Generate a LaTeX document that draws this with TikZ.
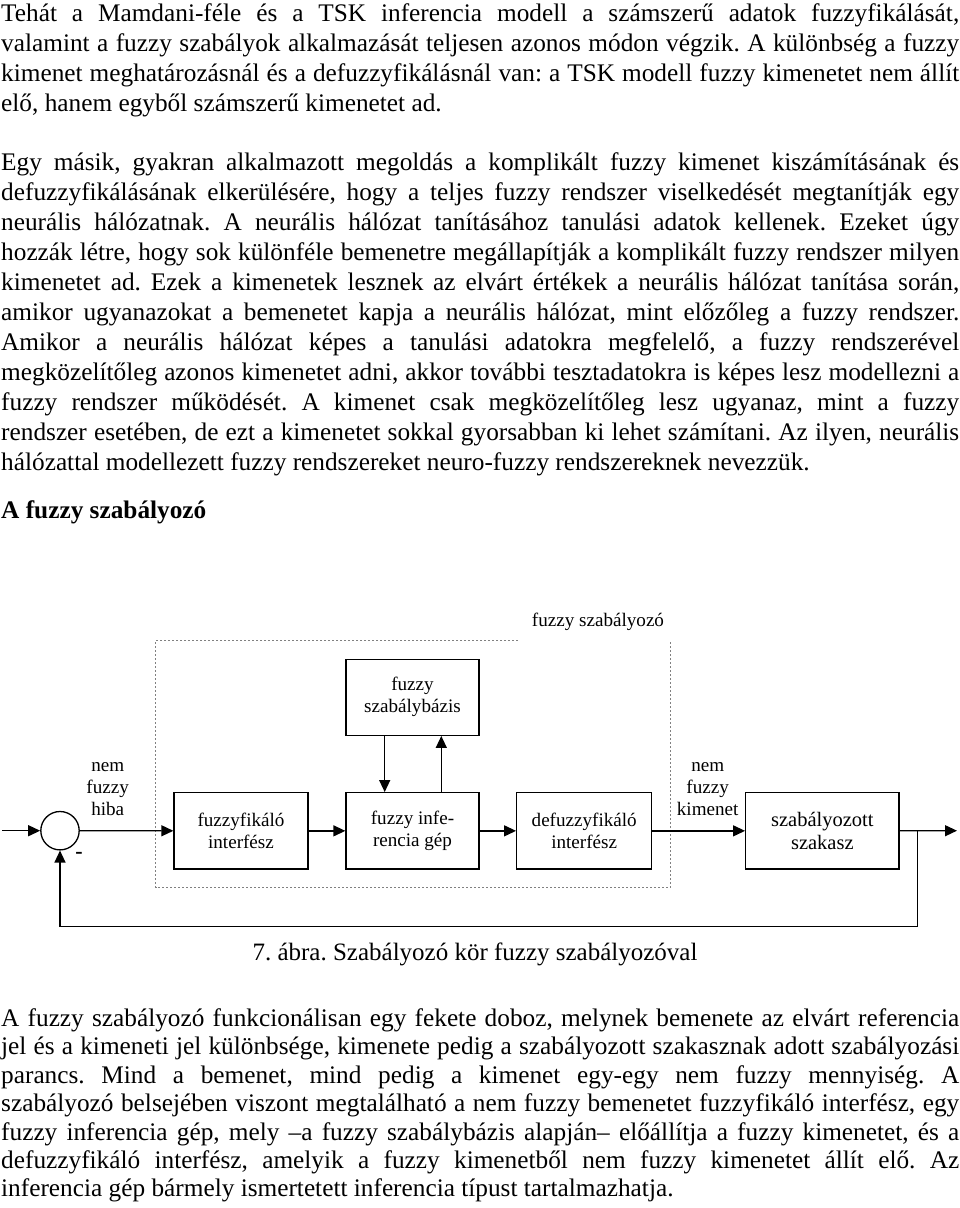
\documentclass[tikz,border=0pt]{standalone}
\usepackage{fontspec}
\setmainfont{Liberation Serif}
\usetikzlibrary{arrows.meta}
\frenchspacing

\begin{document}
\begin{tikzpicture}
    [x=1pt,y=-1pt, >={Triangle[length=12pt,width=11pt]},
     bekezdes/.style={anchor=north west, inner sep=0pt, text width=958pt, align=justify,
       font=\fontsize{25.3}{30}\selectfont},
     blokk/.style={draw, line width=1.3pt, inner sep=0pt, align=center,
       font=\fontsize{19.1}{22}\selectfont},
     felirat/.style={inner sep=0pt, align=center, font=\fontsize{19.1}{22}\selectfont},
     nyil/.style={->, line width=1.3pt}]
    \useasboundingbox (0,0) rectangle (960,1208);
    % szoveg a kep felett
    \node[bekezdes] (p1) at (1,0.7) {\strut Tehát a Mamdani-féle és a TSK inferencia modell a számszerű adatok fuzzyfikálását,\linebreak
      valamint a fuzzy szabályok alkalmazását teljesen azonos módon végzik. A különbség a fuzzy\linebreak
      kimenet meghatározásnál és a defuzzyfikálásnál van: a TSK modell fuzzy kimenetet nem állít\linebreak
      elő, hanem egyből számszerű kimenetet ad.};
    \node[bekezdes] (p2) at (1,149) {\strut Egy másik, gyakran alkalmazott megoldás a komplikált fuzzy kimenet kiszámításának és\linebreak
      defuzzyfikálásának elkerülésére, hogy a teljes fuzzy rendszer viselkedését megtanítják egy\linebreak
      neurális hálózatnak. A neurális hálózat tanításához tanulási adatok kellenek. Ezeket úgy\linebreak
      hozzák létre, hogy sok különféle bemenetre megállapítják a komplikált fuzzy rendszer milyen\linebreak
      kimenetet ad. Ezek a kimenetek lesznek az elvárt értékek a neurális hálózat tanítása során,\linebreak
      amikor ugyanazokat a bemenetet kapja a neurális hálózat, mint előzőleg a fuzzy rendszer.\linebreak
      Amikor a neurális hálózat képes a tanulási adatokra megfelelő, a fuzzy rendszerével\linebreak
      megközelítőleg azonos kimenetet adni, akkor további tesztadatokra is képes lesz modellezni a\linebreak
      fuzzy rendszer működését. A kimenet csak megközelítőleg lesz ugyanaz, mint a fuzzy\linebreak
      rendszer esetében, de ezt a kimenetet sokkal gyorsabban ki lehet számítani. Az ilyen, neurális\linebreak
      hálózattal modellezett fuzzy rendszereket neuro-fuzzy rendszereknek nevezzük.};
    \node[anchor=base west, inner sep=0pt, font=\fontsize{25.3}{30}\selectfont\bfseries] (cim) at (1,518) {A fuzzy szabályozó};

    % a szabalyozo kor
    \draw[gray, line width=0.7pt, dash pattern=on 2pt off 2pt] (518,640.7) -- (155.7,640.7) -- (155.7,887.7) -- (670.7,887.7) -- (670.7,640.7);
    \node[felirat] (fsz) at (598,622) {fuzzy szabályozó};
    \node[circle, draw, line width=1.3pt, minimum size=38.4pt, inner sep=0pt] (sum) at (60,830.7) {};
    \node[blokk, minimum width=134pt, minimum height=76.3pt] (fuzz) at (241,830.85) {fuzzyfikáló\\interfész};
    \node[blokk, minimum width=133pt, minimum height=76.3pt] (inf) at (412.5,830.85) {fuzzy infe-\\rencia gép};
    \node[blokk, minimum width=133pt, minimum height=76pt] (base) at (412.5,697.3) {fuzzy\\szabálybázis};
    \node[blokk, minimum width=135pt, minimum height=76.3pt] (defuzz) at (584.2,830.85) {defuzzyfikáló\\interfész};
    \node[blokk, minimum width=153.3pt, minimum height=76.3pt, font=\fontsize{20.5}{23}\selectfont] (plant) at (822.35,830.85) {szabályozott\\szakasz};
    \node[felirat] (hiba) at (107.7,788.7) {nem\\fuzzy\\hiba};
    \node[felirat] (kimenet) at (707.7,788.7) {nem\\fuzzy\\kimenet};
    \node[inner sep=0pt, font=\fontsize{22}{22}\selectfont\bfseries] (minusz) at (79,855.7) {-};
    \coordinate (in) at (2,830.7);
    \coordinate (out) at (957,830.7);
    \coordinate (ag) at (917.7,830.7);

    \draw[nyil] (in) -- (sum);
    \draw[nyil] (sum) -- (fuzz);
    \draw[nyil] (fuzz) -- (inf);
    \draw[nyil] (inf) -- (defuzz);
    \draw[nyil] (defuzz) -- (plant);
    \draw[nyil] (plant) -- (out);
    \draw[nyil] ([xshift=-27.8pt]base.south) -- ([xshift=-27.8pt]inf.north);
    \draw[nyil] ([xshift=28.8pt]inf.north) -- ([xshift=28.8pt]base.south);
    \draw[nyil] (ag) -- ++(0,96) -| (sum.south);

    \node[anchor=base, inner sep=0pt, font=\fontsize{25}{30}\selectfont] (abra) at (475,960) {7. ábra. Szabályozó kör fuzzy szabályozóval};

    % szoveg a kep alatt
    \node[bekezdes, font=\fontsize{25.3}{28.45}\selectfont] (p3) at (1,1006.1) {\strut A fuzzy szabályozó funkcionálisan egy fekete doboz, melynek bemenete az elvárt referencia\linebreak
      jel és a kimeneti jel különbsége, kimenete pedig a szabályozott szakasznak adott szabályozási\linebreak
      parancs. Mind a bemenet, mind pedig a kimenet egy-egy nem fuzzy mennyiség. A\linebreak
      szabályozó belsejében viszont megtalálható a nem fuzzy bemenetet fuzzyfikáló interfész, egy\linebreak
      fuzzy inferencia gép, mely –a fuzzy szabálybázis alapján– előállítja a fuzzy kimenetet, és a\linebreak
      defuzzyfikáló interfész, amelyik a fuzzy kimenetből nem fuzzy kimenetet állít elő. Az\linebreak
      inferencia gép bármely ismertetett inferencia típust tartalmazhatja.};
  \end{tikzpicture}
\end{document}
